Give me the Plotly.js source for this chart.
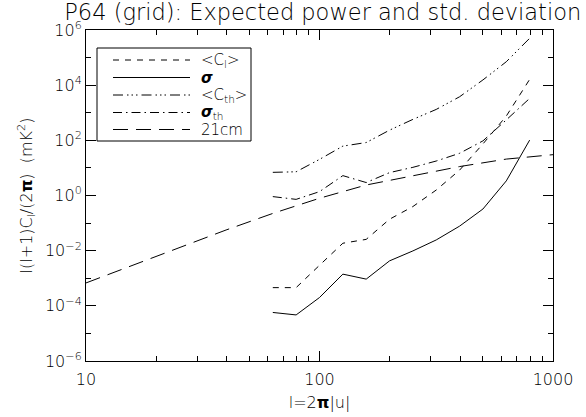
<!DOCTYPE html>
<html>
<head>
<meta charset="utf-8">
<script src="https://cdn.plot.ly/plotly-3.0.1.min.js"></script>
<style>
  html, body { margin: 0; padding: 0; background: #fff; }
  #chart { width: 586px; height: 417px; }
</style>
</head>
<body>
<div id="chart"></div>
<script>
// Multipole bins l = 2*pi*|u|
const ell = [63.1, 79.4, 100, 125.9, 158.5, 199.5, 251.2, 316.2, 398.1, 501.2, 631.0, 794.3];

// Expected power <C_l> and its standard deviation (mK^2)
const clMean  = [4.57e-4, 4.57e-4, 2.95e-3, 1.86e-2, 2.57e-2, 0.138, 0.398, 1.58, 8.32, 74.1, 759, 1.62e4];
const clSigma = [5.75e-5, 4.68e-5, 2.0e-4, 1.41e-3, 9.3e-4, 4.27e-3, 9.8e-3, 2.45e-2, 7.76e-2, 0.324, 3.39, 102];

// Thermal noise power <C_th> and its standard deviation (mK^2)
const cthMean  = [6.92, 7.24, 20.4, 61.7, 83.2, 234, 575, 1320, 3800, 1.55e4, 7.08e4, 5.01e5];
const cthSigma = [0.912, 0.724, 1.38, 5.25, 2.95, 6.76, 10.5, 17.8, 33.9, 95.5, 550, 3310];

// 21cm signal model
const ell21 = [10, 15.8, 25.1, 39.8, 63.1, 100, 158.5, 251.2, 398.1, 631.0, 1000];
const c21   = [6.76e-4, 2.95e-3, 1.32e-2, 5.62e-2, 0.224, 0.794, 2.40, 5.25, 11.2, 20.9, 30.2];

// Axis ticks
const xTickVals = [10, 100, 1000];
const xTickText = ['10', '100', '1000'];
const xMinorVals = [20, 30, 40, 50, 60, 70, 80, 90, 200, 300, 400, 500, 600, 700, 800, 900];
const yTickVals = [1e-6, 1e-4, 1e-2, 1, 1e2, 1e4, 1e6];
const yTickText = ['10<sup>−6</sup>', '10<sup>−4</sup>', '10<sup>−2</sup>', '10<sup>0</sup>',
                   '10<sup>2</sup>', '10<sup>4</sup>', '10<sup>6</sup>'];
const yMinorVals = [1e-5, 1e-3, 1e-1, 1e1, 1e3, 1e5];

// Series names as shown in the key
const seriesNames = ['&lt;C<sub>l</sub>&gt;', '<b><i>σ</i></b>', '&lt;C<sub>th</sub>&gt;',
                     '<b><i>σ</i></b><sub>th</sub>', '21cm'];

// Line styles
const DASH_SHORT = '6px,6px';
const DASH_3DOT  = '10px,4px,1.5px,3px,1.5px,3px,1.5px,4px';
const DASH_DOT   = '9px,4px,1.5px,4px';
const DASH_LONG  = '15px,8px';
const styles = [DASH_SHORT, 'solid', DASH_3DOT, DASH_DOT, DASH_LONG];

const FONT = 'DejaVu Sans, sans-serif';
const LIGHT = 200;
const INK = '#000';

function series(x, y, dash) {
  return { x: x, y: y, type: 'scatter', mode: 'lines', showlegend: false,
           line: { color: INK, width: 1, dash: dash }, hoverinfo: 'skip' };
}

const traces = [
  series(ell, clMean, styles[0]),
  series(ell, clSigma, styles[1]),
  series(ell, cthMean, styles[2]),
  series(ell, cthSigma, styles[3]),
  series(ell21, c21, styles[4])
];

// Plot area in pixels
const W = 586, H = 417;
const M = { l: 86, r: 33, t: 30, b: 56 };
const PW = W - M.l - M.r, PH = H - M.t - M.b;
const px = v => (v - M.l) / PW;
const py = v => (H - M.b - v) / PH;

// Key box drawn in the upper left corner
const key = { left: 97, right: 251, top: 48, bottom: 141, lineX0: 113, lineX1: 190,
              textX: 199, rows: [60, 77.5, 95, 112.5, 129.5] };
const shapes = [{
  type: 'rect', xref: 'paper', yref: 'paper',
  x0: px(key.left), x1: px(key.right), y0: py(key.bottom), y1: py(key.top),
  line: { color: INK, width: 1 }, fillcolor: '#fff', layer: 'above'
}];
const annotations = [];
seriesNames.forEach((name, i) => {
  shapes.push({
    type: 'line', xref: 'paper', yref: 'paper',
    x0: px(key.lineX0), x1: px(key.lineX1), y0: py(key.rows[i]), y1: py(key.rows[i]),
    line: { color: INK, width: 1, dash: styles[i] }, layer: 'above'
  });
  annotations.push({
    xref: 'paper', yref: 'paper', x: px(key.textX), y: py(key.rows[i]),
    xanchor: 'left', yanchor: 'middle', showarrow: false, text: name,
    font: { family: FONT, size: 15, color: INK, weight: LIGHT }
  });
});

const tickFont = { family: FONT, size: 16, color: INK, weight: LIGHT };

const axisCommon = {
  type: 'log', showline: true, linecolor: INK, linewidth: 1, mirror: 'ticks',
  ticks: 'inside', ticklen: 10, tickwidth: 1, tickcolor: INK,
  showgrid: false, zeroline: false, tickmode: 'array',
  tickfont: tickFont
};

const layout = {
  width: W, height: H, margin: M,
  paper_bgcolor: '#fff', plot_bgcolor: '#fff',
  font: { family: FONT, color: INK, weight: LIGHT },
  title: {
    text: 'P64 (grid): Expected power and std. deviation',
    font: { family: FONT, size: 22.5, color: INK, weight: LIGHT },
    xref: 'paper', x: 0.507, xanchor: 'center',
    yref: 'container', y: 1 - 12.5 / H, yanchor: 'middle'
  },
  xaxis: Object.assign({}, axisCommon, {
    range: [1, 3], tickvals: xTickVals, ticktext: xTickText, ticklabelstandoff: 4,
    minor: { tickvals: xMinorVals, ticks: 'inside', ticklen: 5, tickcolor: INK, tickwidth: 1 },
    title: { text: 'l=2<b>π</b>|u|', font: tickFont, standoff: 8 }
  }),
  yaxis: Object.assign({}, axisCommon, {
    range: [-6, 6], tickvals: yTickVals, ticktext: yTickText,
    minor: { tickvals: yMinorVals, ticks: 'inside', ticklen: 5, tickcolor: INK, tickwidth: 1 },
    title: { text: 'l(l+1)C<sub>l</sub>/(2<b>π</b>)  (mK<sup>2</sup>)', font: tickFont, standoff: 8 }
  }),
  shapes: shapes,
  annotations: annotations,
  showlegend: false
};

Plotly.newPlot('chart', traces, layout, { staticPlot: true, displayModeBar: false });
</script>
</body>
</html>
